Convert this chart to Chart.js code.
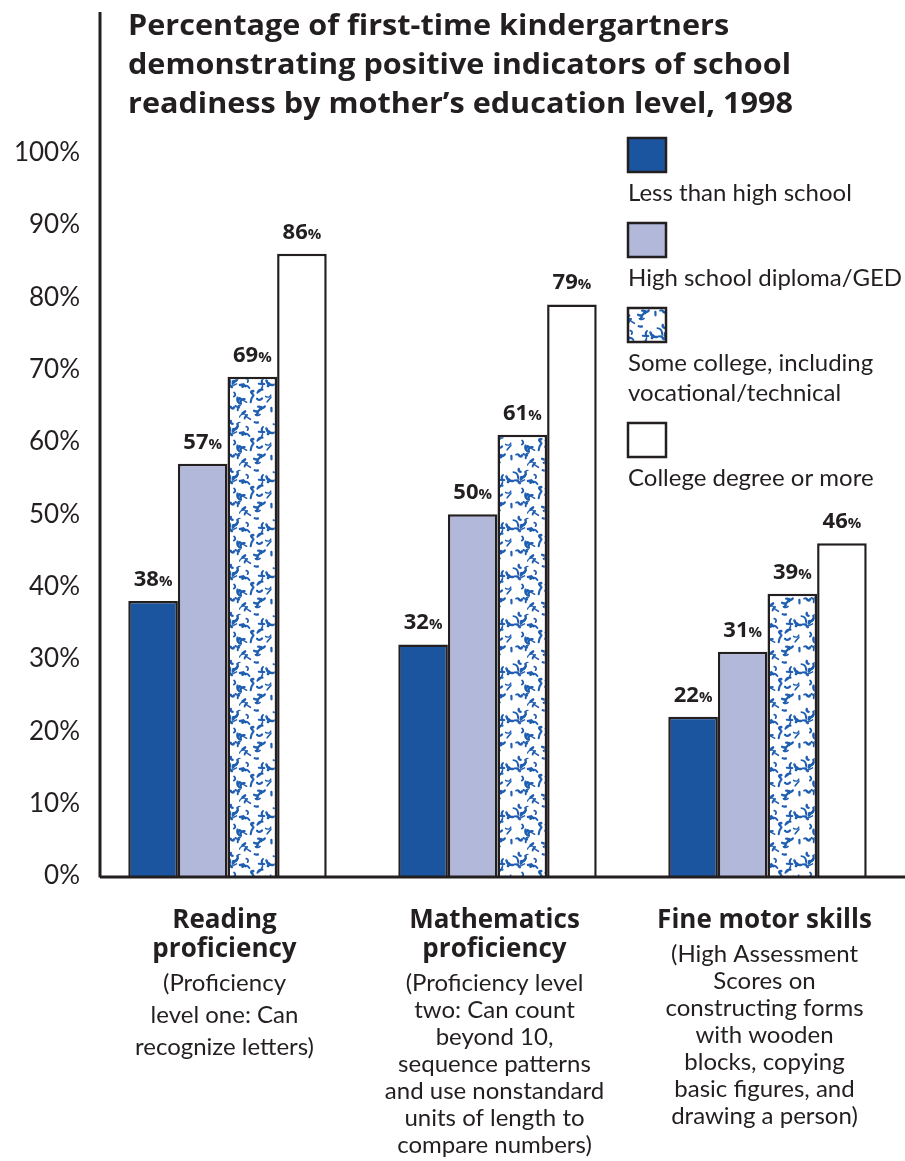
<!DOCTYPE html>
<html>
<head>
<meta charset="utf-8">
<script src="https://cdn.jsdelivr.net/npm/chart.js@4/dist/chart.umd.min.js"></script>
<style>
html, body { margin: 0; padding: 0; background: #fff; }
#wrap { width: 905px; height: 1161px; position: relative; }
</style>
</head>
<body>
<div id="wrap"><canvas id="readinessChart" width="905" height="1161"></canvas></div>
<script>
// data
const categories = ["Reading proficiency", "Mathematics proficiency", "Fine motor skills"];
const seriesNames = [
  "Less than high school",
  "High school diploma/GED",
  "Some college, including vocational/technical",
  "College degree or more"
];
const lessThanHighSchool = [38, 32, 22];
const highSchoolDiploma = [57, 50, 31];
const someCollege = [69, 61, 39];
const collegeDegree = [86, 79, 46];
const yTickValues = [0, 10, 20, 30, 40, 50, 60, 70, 80, 90, 100];

const titleLines = [
  "Percentage of first-time kindergartners",
  "demonstrating positive indicators of school",
  "readiness by mother\u2019s education level, 1998"
];
const legendLines = [
  ["Less than high school"],
  ["High school diploma/GED"],
  ["Some college, including", "vocational/technical"],
  ["College degree or more"]
];
const categoryHeads = [
  ["Reading", "proficiency"],
  ["Mathematics", "proficiency"],
  ["Fine motor skills"]
];
const categoryNotes = [
  ["(Proficiency", "level one: Can", "recognize letters)"],
  ["(Proficiency level", "two: Can count", "beyond 10,", "sequence patterns", "and use nonstandard", "units of length to", "compare numbers)"],
  ["(High Assessment", "Scores on", "constructing forms", "with wooden", "blocks, copying", "basic figures, and", "drawing a person)"]
];

const INK = "#231f20";
const DARK_BLUE = "#1b55a0";
const LAVENDER = "#b2b8da";
const SPECKLE = "#1f5eb0";
const FONT = "Lato, 'Open Sans', sans-serif";
const BOLD_FONT = "'Open Sans', Lato, sans-serif";

// blue squiggle fill for the "some college" bars
function makeSpeckle() {
  const c = document.createElement("canvas");
  c.width = 48; c.height = 48;
  const g = c.getContext("2d");
  g.fillStyle = "#fff";
  g.fillRect(0, 0, 48, 48);
  g.strokeStyle = SPECKLE;
  g.lineCap = "round";
  let s = 11;
  const rnd = () => { s = (s * 16807) % 2147483647; return s / 2147483647; };
  for (let i = 0; i < 44; i++) {
    const x = rnd() * 48, y = rnd() * 48;
    const a = rnd() * Math.PI * 2, len = 2 + rnd() * 6, bend = (rnd() - 0.5) * 7;
    g.lineWidth = 1.2 + rnd() * 1.6;
    for (const dx of [-48, 0, 48]) for (const dy of [-48, 0, 48]) {
      const x0 = x + dx, y0 = y + dy;
      const x1 = x0 + Math.cos(a) * len, y1 = y0 + Math.sin(a) * len;
      g.beginPath();
      g.moveTo(x0, y0);
      g.quadraticCurveTo((x0 + x1) / 2 - Math.sin(a) * bend, (y0 + y1) / 2 + Math.cos(a) * bend, x1, y1);
      g.stroke();
    }
  }
  return g.createPattern(c, "repeat");
}

const ctx = document.getElementById("readinessChart").getContext("2d");
const speckle = makeSpeckle();
const fills = [DARK_BLUE, LAVENDER, speckle, "#ffffff"];

const extras = {
  id: "extras",
  afterDatasetsDraw(chart) {
    const { ctx, chartArea, scales } = chart;
    const c = ctx;
    c.save();

    // axes
    const axisX = chartArea.left + 7.5;
    const base = scales.y.getPixelForValue(0);
    c.strokeStyle = INK;
    c.lineWidth = 3;
    c.beginPath();
    c.moveTo(axisX, chartArea.top - 16);
    c.lineTo(axisX, base + 1.5);
    c.moveTo(axisX, base + 1);
    c.lineTo(chart.width, base + 1);
    c.stroke();

    // value labels above bars
    c.fillStyle = INK;
    c.textBaseline = "alphabetic";
    chart.data.datasets.forEach((ds, di) => {
      chart.getDatasetMeta(di).data.forEach((bar, i) => {
        const num = String(ds.data[i]);
        c.font = "bold 22px " + BOLD_FONT;
        const wn = c.measureText(num).width;
        c.font = "bold 15px " + BOLD_FONT;
        const wp = c.measureText("%").width;
        const x0 = bar.x - (wn + wp) / 2;
        const y0 = bar.y - 15;
        c.font = "bold 22px " + BOLD_FONT;
        c.textAlign = "left";
        c.fillText(num, x0, y0);
        c.font = "bold 15px " + BOLD_FONT;
        c.fillText("%", x0 + wn, y0);
      });
    });

    // title
    c.font = "bold 28px " + BOLD_FONT;
    c.textAlign = "left";
    const sx = 665 / c.measureText(titleLines[2]).width;
    titleLines.forEach((t, i) => {
      c.save();
      c.translate(128, 35 + i * 39);
      c.scale(sx, 1);
      c.fillText(t, 0, 0);
      c.restore();
    });

    // legend
    let top = 138;
    legendLines.forEach((lines, i) => {
      c.fillStyle = fills[i];
      c.fillRect(628, top, 38, 34);
      c.strokeStyle = INK;
      c.lineWidth = 2.5;
      c.strokeRect(628, top, 38, 34);
      c.fillStyle = INK;
      c.font = "24px " + FONT;
      lines.forEach((t, j) => c.fillText(t, 628, top + 63 + j * 30));
      top += 85 + (lines.length - 1) * 30;
    });

    // category labels
    const noteGap = [32, 27, 27];
    c.textAlign = "center";
    categoryHeads.forEach((heads, i) => {
      const cx = scales.x.getPixelForValue(i) - 3;
      let y = 928;
      c.font = "bold 26px " + BOLD_FONT;
      heads.forEach((t, j) => { y = 928 + j * 29; c.fillText(t, cx, y); });
      c.font = "24px " + FONT;
      categoryNotes[i].forEach((t, j) => c.fillText(t, cx, y + 34 + j * noteGap[i]));
    });

    c.restore();
  }
};

new Chart(ctx, {
  type: "bar",
  data: {
    labels: categories,
    datasets: [
      { label: seriesNames[0], data: lessThanHighSchool, backgroundColor: fills[0] },
      { label: seriesNames[1], data: highSchoolDiploma, backgroundColor: fills[1] },
      { label: seriesNames[2], data: someCollege, backgroundColor: fills[2] },
      { label: seriesNames[3], data: collegeDegree, backgroundColor: fills[3] }
    ]
  },
  options: {
    responsive: false,
    animation: false,
    devicePixelRatio: 1,
    layout: { padding: { top: 10, right: 2.5, bottom: 285, left: 0 } },
    datasets: {
      bar: {
        borderColor: INK,
        borderWidth: 2.5,
        borderSkipped: "bottom",
        categoryPercentage: 0.735,
        barPercentage: 1
      }
    },
    plugins: {
      legend: { display: false },
      tooltip: { enabled: false },
      title: { display: false }
    },
    scales: {
      x: { display: false },
      y: {
        min: 0,
        max: 117.2,
        afterFit(scale) { scale.width = 92.5; },
        afterBuildTicks(scale) { scale.ticks = yTickValues.map(v => ({ value: v })); },
        grid: { display: false, drawTicks: false },
        border: { display: false },
        ticks: {
          padding: 12.5,
          color: INK,
          font: { family: FONT, size: 26 },
          callback: v => v + "%"
        }
      }
    }
  },
  plugins: [extras]
});
</script>
</body>
</html>
